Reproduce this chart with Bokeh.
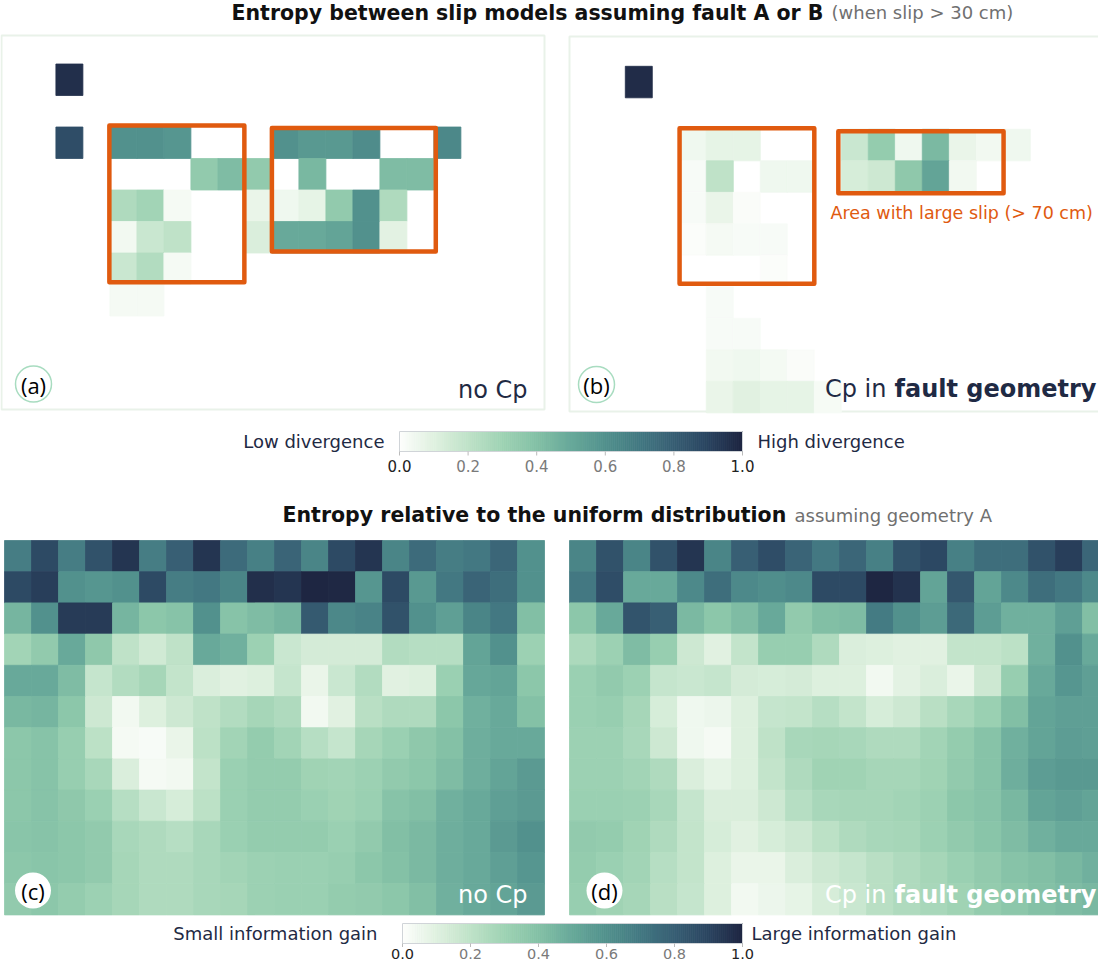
import numpy as np
from bokeh.plotting import figure
from bokeh.models import Range1d, ColumnDataSource, LinearColorMapper
from bokeh.core.properties import value
from bokeh.embed import file_html
from bokeh.resources import INLINE

# ---------------- data ----------------
tick_values = [0.0, 0.2, 0.4, 0.6, 0.8, 1.0]
tick_labels = ["0.0", "0.2", "0.4", "0.6", "0.8", "1.0"]

# panel (a): divergence, no Cp (sparse cells: row, col, value)
a_row = [1, 3, 3, 3, 3, 3, 3, 3, 3, 3,
         4, 4, 4, 4, 4, 4,
         5, 5, 5, 5, 5, 5, 5, 5, 5,
         6, 6, 6, 6, 6, 6, 6, 6, 6,
         7, 7, 7, 8, 8]
a_col = [2, 2, 4, 5, 6, 10, 11, 12, 13, 16,
         7, 8, 9, 11, 14, 15,
         4, 5, 6, 9, 10, 11, 12, 13, 14,
         4, 5, 6, 9, 10, 11, 12, 13, 14,
         4, 5, 6, 4, 5]
a_val = [0.97, 0.87, 0.60, 0.60, 0.58, 0.60, 0.57, 0.57, 0.62, 0.64,
         0.35, 0.42, 0.35, 0.44, 0.42, 0.42,
         0.25, 0.29, 0.03, 0.07, 0.05, 0.08, 0.35, 0.60, 0.25,
         0.04, 0.17, 0.20, 0.12, 0.50, 0.50, 0.52, 0.60, 0.09,
         0.17, 0.24, 0.03, 0.03, 0.03]

# panel (b): divergence, Cp in fault geometry
b_row = [1, 3, 3, 3, 3, 3, 3, 3, 3, 3, 3,
         4, 4, 4, 4, 4, 4, 4, 4, 4,
         5, 5, 5, 6, 6, 6, 6, 7, 8, 9, 9,
         10, 10, 10, 10, 11, 11, 11, 11, 11]
b_col = [2, 4, 5, 6, 10, 11, 12, 13, 14, 15, 16,
         4, 5, 7, 8, 10, 11, 12, 13, 14,
         4, 5, 6, 4, 5, 6, 7, 7, 5, 5, 6,
         5, 6, 7, 8, 5, 6, 7, 8, 9]
b_val = [0.98, 0.05, 0.08, 0.08, 0.17, 0.34, 0.05, 0.43, 0.07, 0.04, 0.05,
         0.02, 0.20, 0.05, 0.05, 0.13, 0.16, 0.36, 0.52, 0.04,
         0.02, 0.07, 0.015, 0.01, 0.03, 0.02, 0.02, 0.01, 0.02, 0.02, 0.02,
         0.04, 0.05, 0.035, 0.015, 0.07, 0.10, 0.08, 0.08, 0.025]

# panel (c): information gain, no Cp (12 rows x 20 cols)
c_grid = [
    [0.68, 0.88, 0.68, 0.85, 0.95, 0.68, 0.80, 0.95, 0.75, 0.67, 0.78, 0.65, 0.88, 0.95, 0.65, 0.75, 0.68, 0.70, 0.77, 0.60],
    [0.88, 0.92, 0.60, 0.58, 0.60, 0.88, 0.68, 0.70, 0.65, 0.97, 0.95, 1.00, 0.99, 0.58, 0.88, 0.57, 0.70, 0.78, 0.74, 0.60],
    [0.45, 0.60, 0.93, 0.93, 0.45, 0.37, 0.39, 0.60, 0.39, 0.42, 0.45, 0.82, 0.64, 0.66, 0.85, 0.60, 0.54, 0.65, 0.70, 0.41],
    [0.29, 0.35, 0.50, 0.36, 0.20, 0.15, 0.20, 0.50, 0.47, 0.31, 0.17, 0.14, 0.14, 0.14, 0.24, 0.23, 0.23, 0.52, 0.60, 0.31],
    [0.50, 0.50, 0.42, 0.18, 0.24, 0.28, 0.19, 0.12, 0.10, 0.11, 0.18, 0.07, 0.17, 0.24, 0.10, 0.11, 0.32, 0.51, 0.52, 0.37],
    [0.44, 0.45, 0.37, 0.16, 0.04, 0.11, 0.16, 0.20, 0.24, 0.28, 0.25, 0.04, 0.10, 0.22, 0.25, 0.25, 0.37, 0.47, 0.50, 0.40],
    [0.37, 0.39, 0.33, 0.21, 0.03, 0.02, 0.07, 0.21, 0.29, 0.34, 0.29, 0.23, 0.18, 0.28, 0.32, 0.36, 0.40, 0.48, 0.50, 0.50],
    [0.37, 0.39, 0.33, 0.27, 0.12, 0.03, 0.04, 0.19, 0.32, 0.34, 0.34, 0.30, 0.29, 0.31, 0.35, 0.37, 0.42, 0.48, 0.52, 0.56],
    [0.37, 0.39, 0.36, 0.32, 0.23, 0.17, 0.13, 0.21, 0.32, 0.34, 0.34, 0.32, 0.30, 0.32, 0.39, 0.41, 0.47, 0.50, 0.54, 0.56],
    [0.38, 0.39, 0.37, 0.35, 0.27, 0.25, 0.23, 0.27, 0.32, 0.34, 0.34, 0.34, 0.32, 0.35, 0.41, 0.43, 0.48, 0.50, 0.56, 0.60],
    [0.37, 0.38, 0.37, 0.35, 0.28, 0.25, 0.25, 0.27, 0.29, 0.31, 0.32, 0.32, 0.33, 0.37, 0.40, 0.43, 0.48, 0.50, 0.54, 0.58],
    [0.35, 0.37, 0.34, 0.31, 0.28, 0.25, 0.25, 0.27, 0.28, 0.31, 0.32, 0.32, 0.34, 0.35, 0.37, 0.41, 0.47, 0.50, 0.52, 0.56],
]

# panel (d): information gain, Cp in fault geometry
d_grid = [
    [0.65, 0.85, 0.65, 0.85, 0.95, 0.65, 0.80, 0.87, 0.78, 0.70, 0.77, 0.67, 0.85, 0.89, 0.67, 0.74, 0.74, 0.85, 0.92, 0.77],
    [0.70, 0.87, 0.50, 0.50, 0.63, 0.74, 0.63, 0.61, 0.63, 0.88, 0.88, 1.00, 0.96, 0.52, 0.83, 0.52, 0.63, 0.74, 0.70, 0.63],
    [0.37, 0.50, 0.84, 0.80, 0.43, 0.37, 0.42, 0.50, 0.35, 0.41, 0.42, 0.69, 0.60, 0.55, 0.76, 0.55, 0.47, 0.47, 0.54, 0.41],
    [0.26, 0.31, 0.42, 0.33, 0.16, 0.10, 0.19, 0.33, 0.33, 0.25, 0.12, 0.11, 0.10, 0.10, 0.19, 0.19, 0.21, 0.47, 0.60, 0.50],
    [0.32, 0.35, 0.31, 0.18, 0.17, 0.18, 0.14, 0.13, 0.14, 0.11, 0.11, 0.04, 0.09, 0.12, 0.07, 0.16, 0.33, 0.50, 0.58, 0.54],
    [0.32, 0.33, 0.28, 0.13, 0.05, 0.06, 0.11, 0.18, 0.19, 0.23, 0.19, 0.13, 0.16, 0.22, 0.27, 0.32, 0.41, 0.52, 0.54, 0.54],
    [0.31, 0.31, 0.27, 0.16, 0.05, 0.03, 0.11, 0.20, 0.27, 0.28, 0.27, 0.25, 0.25, 0.29, 0.34, 0.39, 0.47, 0.52, 0.55, 0.54],
    [0.31, 0.31, 0.29, 0.25, 0.12, 0.08, 0.11, 0.19, 0.25, 0.30, 0.30, 0.28, 0.28, 0.30, 0.35, 0.39, 0.48, 0.55, 0.57, 0.57],
    [0.32, 0.32, 0.31, 0.27, 0.18, 0.12, 0.12, 0.16, 0.23, 0.27, 0.28, 0.28, 0.29, 0.31, 0.37, 0.39, 0.44, 0.52, 0.54, 0.52],
    [0.35, 0.34, 0.30, 0.25, 0.19, 0.13, 0.10, 0.13, 0.16, 0.21, 0.25, 0.27, 0.28, 0.31, 0.35, 0.38, 0.42, 0.47, 0.50, 0.50],
    [0.34, 0.32, 0.29, 0.23, 0.19, 0.11, 0.07, 0.07, 0.12, 0.16, 0.18, 0.22, 0.25, 0.28, 0.32, 0.35, 0.39, 0.41, 0.44, 0.47],
    [0.33, 0.30, 0.28, 0.22, 0.18, 0.11, 0.04, 0.06, 0.08, 0.13, 0.17, 0.22, 0.25, 0.27, 0.30, 0.34, 0.37, 0.40, 0.42, 0.44],
]

# large-slip areas, in cell units
a_box_left = [3.98, 10.0]
a_box_right = [8.98, 16.07]
a_box_top = [2.95, 3.03]
a_box_bottom = [7.93, 6.95]
b_box_left = [4.01, 9.89]
b_box_right = [9.0, 16.01]
b_box_top = [2.97, 3.06]
b_box_bottom = [7.9, 5.03]

# ---------------- style ----------------
cmap_stops = ["#fdfefc", "#e0f1e0", "#bfe2c8", "#9fd3b4", "#84c1a6", "#68a99a",
              "#52918d", "#437982", "#385f74", "#2b4561", "#1e2642"]
rgb = np.array([[int(s[i:i + 2], 16) for i in (1, 3, 5)] for s in cmap_stops], float)
pos = np.linspace(0, 1, len(cmap_stops))
palette = ["#%02x%02x%02x" % tuple(int(round(np.interp(t, pos, rgb[:, k]))) for k in range(3))
           for t in np.linspace(0, 1, 256)]
mapper = LinearColorMapper(palette=palette, low=0, high=1)

NAVY = "#1f2a44"
ORANGE = "#e05a0f"
FONT = value("DejaVu Sans")

X0, X1, Y0, Y1 = 11, 1109, 10, 972
p = figure(width=1098, height=962, x_range=Range1d(X0, X1), y_range=Range1d(Y1, Y0),
           output_backend="svg", toolbar_location=None, min_border=0,
           x_axis_location=None, y_axis_location=None, outline_line_color=None,
           background_fill_color="white", border_fill_color="white")
p.grid.visible = False

CW = 27.0
# panel name: (left x, top y, row height)
panels = {"a": (12.4, 42.0, 31.5), "b": (581.8, 44.3, 31.5),
          "c": (15.0, 550.0, 31.2), "d": (580.0, 550.0, 31.2)}
for name, (px0, py0, rh) in panels.items():
    p.extra_x_ranges[name] = Range1d((X0 - px0) / CW, (X1 - px0) / CW)
    p.extra_y_ranges[name] = Range1d((Y1 - py0) / rh, (Y0 - py0) / rh)

# panel frames for (a) and (b)
p.rect(x=[283.5, 855.0], y=[232.0, 233.5], width=[543, 550], height=[374, 375],
       fill_color=None, line_color="#e9f2e9", line_width=2)


def draw_cells(name, rows, cols, vals):
    src = ColumnDataSource(dict(x=[c + 0.5 for c in cols], y=[r + 0.5 for r in rows], v=vals))
    p.rect("x", "y", 1, 1, source=src, x_range_name=name, y_range_name=name,
           fill_color={"field": "v", "transform": mapper},
           line_color={"field": "v", "transform": mapper}, line_width=0.8)


def grid_cells(grid):
    rows, cols, vals = [], [], []
    for r, line in enumerate(grid):
        for c, v in enumerate(line):
            rows.append(r)
            cols.append(c)
            vals.append(v)
    return rows, cols, vals


draw_cells("a", a_row, a_col, a_val)
draw_cells("b", b_row, b_col, b_val)
draw_cells("c", *grid_cells(c_grid))
draw_cells("d", *grid_cells(d_grid))


def draw_boxes(name, left, right, top, bottom):
    xs = [[l, r, r, l] for l, r in zip(left, right)]
    ys = [[t, t, b, b] for t, b in zip(top, bottom)]
    p.patches(xs, ys, x_range_name=name, y_range_name=name, fill_color=None,
              line_color=ORANGE, line_width=4.5, line_join="round")


draw_boxes("a", a_box_left, a_box_right, a_box_top, a_box_bottom)
draw_boxes("b", b_box_left, b_box_right, b_box_top, b_box_bottom)

p.text(x=[841], y=[222.5], text=["Area with large slip (> 70 cm)"], text_font=FONT,
       text_font_size="17.5px", text_color=ORANGE, text_baseline="middle", text_align="left")

# panel letters
p.scatter(x=[44, 607], y=[393.5, 394], marker="circle", size=36, fill_color="white",
          line_color="#a8dcc0", line_width=1.5)
p.scatter(x=[43.5, 615], y=[900, 900], marker="circle", size=36, fill_color="white",
          line_color=None)
p.text(x=[44, 607, 43.5, 615], y=[394, 394.5, 900.5, 900.5], text=["(a)", "(b)", "(c)", "(d)"],
       text_font=value("Open Sans"), text_font_size="22px", text_color="black",
       text_align="center", text_baseline="middle")

# panel captions
cap_kw = dict(text_font=FONT, text_font_size="24px", text_baseline="middle")
p.text(x=[538], y=[399], text=["no Cp"], text_color=NAVY, text_align="right", **cap_kw)
p.text(x=[897], y=[398], text=["Cp in"], text_color=NAVY, text_align="right", **cap_kw)
p.text(x=[1107], y=[398], text=["fault geometry"], text_font_style="bold", text_color=NAVY,
       text_align="right", **cap_kw)
p.text(x=[538], y=[904], text=["no Cp"], text_color="white", text_align="right", **cap_kw)
p.text(x=[897], y=[904], text=["Cp in"], text_color="white", text_align="right", **cap_kw)
p.text(x=[1107], y=[904], text=["fault geometry"], text_font_style="bold", text_color="white",
       text_align="right", **cap_kw)

# titles
p.text(x=[242, 293], y=[22, 524.5],
       text=["Entropy between slip models assuming fault A or B",
             "Entropy relative to the uniform distribution"],
       text_font=FONT, text_font_size="20.5px", text_font_style="bold", text_color="#111111",
       text_baseline="middle", text_align="left")
p.text(x=[842, 805], y=[22, 524.5], text=["(when slip > 30 cm)", "assuming geometry A"],
       text_font=FONT, text_font_size="18px", text_color="#707070",
       text_baseline="middle", text_align="left")

# colour bars
colorbars = [
    ("cb1", 410.0, 753.0, 441.0, 461.0, 4.0, 475.0, "15px",
     "Low divergence", "High divergence", 395.0, 768.0, 451.0),
    ("cb2", 413.0, 753.0, 933.0, 953.0, 3.5, 963.5, "14.5px",
     "Small information gain", "Large information gain", 388.0, 762.0, 943.0),
]
n_grad = 171
grad_vals = list((np.arange(n_grad) + 0.5) / n_grad)
tick_colors = ["#222222" if t in (0.0, 1.0) else "#7a7a7a" for t in tick_values]
for (name, xl, xr, yt, yb, tlen, ylab, lab_size,
     left_txt, right_txt, xlt, xrt, ytxt) in colorbars:
    span = xr - xl
    p.extra_x_ranges[name] = Range1d((X0 - xl) / span, (X1 - xl) / span)
    gsrc = ColumnDataSource(dict(x=grad_vals, v=grad_vals))
    p.rect("x", (yt + yb) / 2, 1.0 / n_grad, yb - yt, source=gsrc, x_range_name=name,
           fill_color={"field": "v", "transform": mapper},
           line_color={"field": "v", "transform": mapper}, line_width=0.8)
    p.rect(x=[0.5], y=[(yt + yb) / 2], width=[1.0], height=[yb - yt], x_range_name=name,
           fill_color=None, line_color="#d0d4d8", line_width=1)
    p.segment(x0=tick_values, y0=[yb] * len(tick_values), x1=tick_values,
              y1=[yb + tlen] * len(tick_values), x_range_name=name,
              line_color="#bbbbbb", line_width=1)
    p.text(x=tick_values, y=[ylab] * len(tick_values), text=tick_labels, x_range_name=name,
           text_font=FONT, text_font_size=lab_size, text_color=tick_colors,
           text_align="center", text_baseline="middle")
    p.text(x=[xlt], y=[ytxt], text=[left_txt], text_font=FONT, text_font_size="18px",
           text_color=NAVY, text_align="right", text_baseline="middle")
    p.text(x=[xrt], y=[ytxt], text=[right_txt], text_font=FONT, text_font_size="18px",
           text_color=NAVY, text_align="left", text_baseline="middle")

open("out.html", "w").write(file_html(p, INLINE))
